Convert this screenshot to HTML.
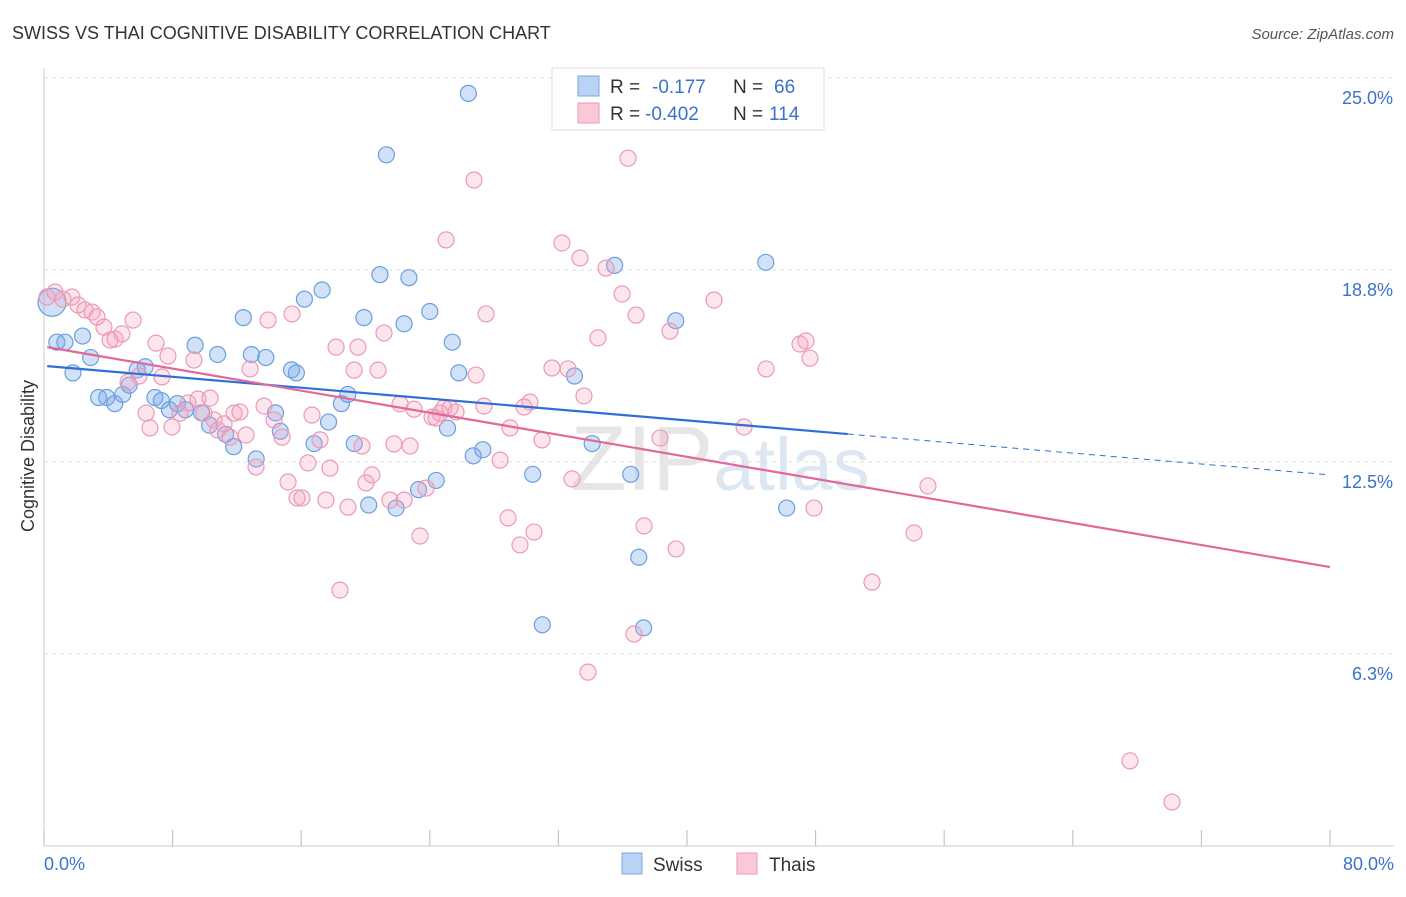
<!DOCTYPE html>
<html><head><meta charset="utf-8"><style>
body{margin:0;background:#fff;font-family:"Liberation Sans",sans-serif;}
svg text{font-family:"Liberation Sans",sans-serif;}
</style></head><body>
<svg id="c" width="1406" height="892">
<text x="12" y="39" font-size="18" fill="#333">SWISS VS THAI COGNITIVE DISABILITY CORRELATION CHART</text>
<text x="1394" y="39" font-size="15" fill="#555" font-style="italic" text-anchor="end">Source: ZipAtlas.com</text>
<text x="720" y="490" font-size="92" fill="#e6e6e6" text-anchor="middle" font-family="Liberation Serif">ZIP<tspan fill="#dde6f3" font-family="Liberation Sans" font-size="74">atlas</tspan></text>
<g id="grid"></g><g id="pts"></g><g id="lines"></g>
<text x="34" y="456" font-size="18" fill="#333" text-anchor="middle" transform="rotate(-90 34 456)">Cognitive Disability</text>
<text x="44" y="870" font-size="18" fill="#3b73c8">0.0%</text>
<text x="1394" y="870" font-size="18" fill="#3b73c8" text-anchor="end">80.0%</text>
<g>
<rect x="552" y="68" width="272" height="62" fill="#fff" stroke="#ddd"/>
<rect x="578" y="76" width="21" height="20" fill="#b8d3f3" stroke="#7aa8e0"/>
<rect x="578" y="103" width="21" height="20" fill="#fbc8d7" stroke="#eb9ab5"/>
<text x="610" y="93" font-size="19" fill="#333">R = <tspan x="652" fill="#3b73c8">-0.177</tspan><tspan x="733" fill="#333">N = </tspan><tspan x="774" fill="#3b73c8">66</tspan></text>
<text x="610" y="120" font-size="19" fill="#333">R = <tspan x="645" fill="#3b73c8">-0.402</tspan><tspan x="733" fill="#333">N = </tspan><tspan x="769" fill="#3b73c8">114</tspan></text>
</g>
<g>
<rect x="622" y="853" width="20" height="21" fill="#b8d3f3" stroke="#7aa8e0"/>
<text x="653" y="871" font-size="19" fill="#333">Swiss</text>
<rect x="737" y="853" width="20" height="21" fill="#fbc8d7" stroke="#eb9ab5"/>
<text x="769" y="871" font-size="19" fill="#333">Thais</text>
</g>
</svg>
<script>
const yTicks=[25.0,18.75,12.5,6.25];
const yTickLabels=["25.0%","18.8%","12.5%","6.3%"];
const xTicks=[0,8,16,24,32,40,48,56,64,72,80];
const swissX=[0.5,0.8,1.3,2.4,1.8,2.9,3.4,3.9,4.4,4.9,5.3,5.8,6.3,6.9,7.3,7.8,8.3,8.8,9.4,9.8,10.3,10.8,11.3,11.8,12.4,12.9,13.2,13.8,14.4,14.7,15.4,15.7,16.2,16.8,17.3,17.7,18.5,18.9,19.3,19.9,20.2,20.9,21.3,21.9,22.4,22.7,23.3,24.0,24.4,25.1,25.4,25.8,26.4,26.7,27.3,30.4,31.0,33.0,34.1,35.5,36.5,37.0,37.3,39.3,44.9,46.2];
const swissY=[17.7,16.4,16.4,16.6,15.4,15.9,14.6,14.6,14.4,14.7,15.0,15.5,15.6,14.6,14.5,14.2,14.4,14.2,16.3,14.1,13.7,16.0,13.4,13.0,17.2,16.0,12.6,15.9,14.1,13.5,15.5,15.4,17.8,13.1,18.1,13.8,14.4,14.7,13.1,17.2,11.1,18.6,22.5,11.0,17.0,18.5,11.6,17.4,11.9,13.6,16.4,15.4,24.5,12.7,12.9,12.1,7.2,15.3,13.1,18.9,12.1,9.4,7.1,17.1,19.0,11.0];
const thaiX=[0.19,0.68,1.18,1.74,2.12,2.55,2.99,3.30,3.73,4.11,4.42,4.85,5.23,5.54,5.91,6.35,6.59,6.97,7.34,7.71,7.96,8.46,8.96,9.33,9.58,9.95,10.33,10.58,10.82,11.20,11.57,11.82,12.19,12.57,12.82,13.19,13.69,13.94,14.31,14.81,15.18,15.43,15.74,16.05,16.42,16.67,17.17,17.54,17.79,18.17,18.41,18.91,19.29,19.53,19.78,20.03,20.40,20.78,21.15,21.52,21.77,22.15,22.40,22.77,23.02,23.39,23.76,24.14,24.39,24.64,24.88,25.01,25.26,25.63,26.75,26.88,27.37,27.50,28.37,28.87,28.99,29.61,29.86,30.23,30.48,30.98,31.60,32.22,32.60,32.85,33.34,33.59,33.84,34.46,34.96,35.96,36.33,36.70,36.83,37.33,38.32,38.94,39.32,41.68,43.55,44.92,47.03,47.40,47.65,47.90,51.51,54.12,54.99,67.56,70.17];
const thaiY=[17.87,18.03,17.80,17.87,17.61,17.45,17.38,17.22,16.89,16.47,16.50,16.67,15.10,17.12,15.30,14.09,13.61,16.37,15.27,15.95,13.64,14.09,14.42,15.82,14.55,14.09,14.58,13.87,13.54,13.74,13.31,14.09,14.13,13.38,15.53,12.34,14.32,17.12,13.87,13.31,11.85,17.32,11.33,11.33,12.47,14.03,13.22,11.26,12.30,16.24,8.33,11.03,15.49,16.24,13.02,11.82,12.08,15.49,16.70,11.26,13.09,14.39,11.26,13.02,14.22,10.09,11.65,13.96,13.93,14.09,14.26,19.73,14.26,14.13,21.68,15.33,14.32,17.32,12.56,10.68,13.61,9.80,14.29,14.45,10.22,13.22,15.56,19.63,15.53,11.95,19.14,14.65,5.66,16.54,18.81,17.97,22.39,6.90,17.28,10.42,13.28,16.76,9.67,17.77,13.64,15.53,16.34,16.44,15.88,11.00,8.59,10.19,11.72,2.77,1.43];
const swissLine=[[0.2,15.62],[50,13.41],[80,12.08]];
const thaiLine=[[0.2,16.24],[80,9.08]];
const X=v=>44+v/80*1286, Y=v=>846-v/25*768;
const NS="http://www.w3.org/2000/svg";
function mk(t,a,p){const e=document.createElementNS(NS,t);for(const k in a)e.setAttribute(k,a[k]);p.appendChild(e);return e;}
const g=document.getElementById('grid');
yTicks.forEach((v,i)=>{
 const l=mk('line',{x1:44,x2:1394,y1:Y(v),y2:Y(v),stroke:'#ddd','stroke-dasharray':'4,4'},g);
 
 
 const t=mk('text',{x:1393,y:Y(v)+26,'font-size':18,fill:'#3b73c8','text-anchor':'end'},g);
 t.textContent=yTickLabels[i];
 
 
});
mk('line',{x1:44,x2:44,y1:68,y2:846,stroke:'#ccc'},g);
mk('line',{x1:44,x2:1394,y1:846,y2:846,stroke:'#ccc'},g);
xTicks.forEach(v=>{const l=mk('line',{x1:X(v),x2:X(v),y1:830,y2:846,stroke:'#bbb'},g);
 
 });
const p=document.getElementById('pts');
swissX.forEach((x,i)=>{const c=mk('circle',{cx:X(x),cy:Y(swissY[i]),r:i==0?14:8,fill:'rgba(120,170,235,0.35)',stroke:'#6b9fe0','stroke-width':1.2},p);
 
 });
thaiX.forEach((x,i)=>{const c=mk('circle',{cx:X(x),cy:Y(thaiY[i]),r:8,fill:'rgba(245,160,190,0.28)',stroke:'#eb9ab5','stroke-width':1.2},p);
 
 });
const L=document.getElementById('lines');
const s1=mk('line',{x1:X(swissLine[0][0]),y1:Y(swissLine[0][1]),x2:X(swissLine[1][0]),y2:Y(swissLine[1][1]),stroke:'#2f6fd6','stroke-width':2.2},L);


const s2=mk('line',{x1:X(swissLine[1][0]),y1:Y(swissLine[1][1]),x2:X(swissLine[2][0]),y2:Y(swissLine[2][1]),stroke:'#2f6fd6','stroke-width':1,'stroke-dasharray':'6,5'},L);


const t1=mk('line',{x1:X(thaiLine[0][0]),y1:Y(thaiLine[0][1]),x2:X(thaiLine[1][0]),y2:Y(thaiLine[1][1]),stroke:'#e3689a','stroke-width':2.2},L);


</script>
</body></html>
